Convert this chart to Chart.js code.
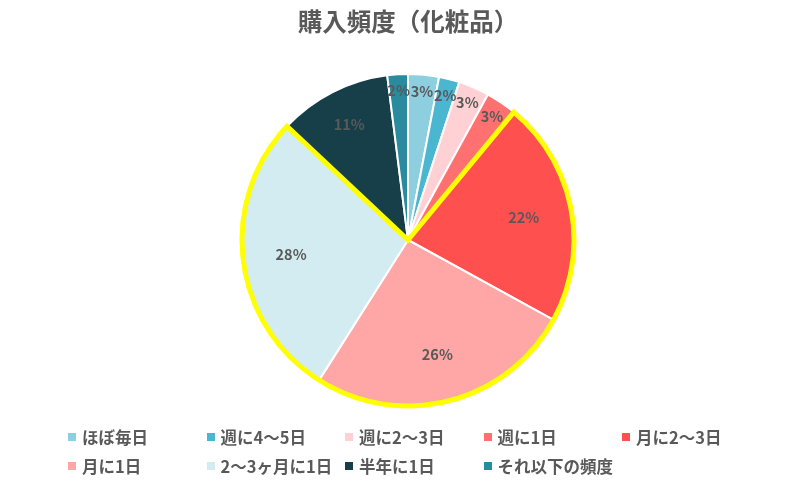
<!DOCTYPE html>
<html lang="ja">
<head>
<meta charset="utf-8">
<script src="https://cdn.jsdelivr.net/npm/chart.js@4/dist/chart.umd.min.js"></script>
<style>
    html, body { margin: 0; padding: 0; background: #fff; }
    #wrap { position: relative; width: 800px; height: 502px; }
    #legend {
        position: absolute; left: 68px; top: 427px; width: 720px;
        display: grid; grid-template-columns: repeat(5, 138.5px); row-gap: 9px;
        font-family: "Noto Sans CJK JP", sans-serif; font-size: 16.5px; font-weight: bold; color: #595959;
    }
    #legend div { display: flex; align-items: center; height: 20px; white-space: nowrap; }
    #legend span { display: inline-block; width: 8px; height: 8px; margin-right: 6px; }
</style>
</head>
<body>
<div id="wrap">
    <canvas id="chart" width="800" height="502"></canvas>
    <div id="legend"></div>
</div>
<script>
const categories = ['ほぼ毎日', '週に4〜5日', '週に2〜3日', '週に1日', '月に2〜3日', '月に1日', '2〜3ヶ月に1日', '半年に1日', 'それ以下の頻度'];
const shares = [3, 2, 3, 3, 22, 26, 28, 11, 2];
const colors = ['#8ecfdf', '#4bb6d0', '#ffd1d4', '#ff7171', '#ff5050', '#ffa6a6', '#d3ecf2', '#163f4a', '#2a8a9e'];
// slices wrapped together by the yellow outline
const highlighted = [4, 5, 6];

const fontFamily = '"Noto Sans CJK JP", sans-serif';

const sliceLabels = {
    id: 'sliceLabels',
    afterDatasetsDraw(chart) {
        const ctx = chart.ctx;
        const arcs = chart.getDatasetMeta(0).data;

        // yellow outline around the highlighted group
        const first = arcs[highlighted[0]];
        const last = arcs[highlighted[highlighted.length - 1]];
        ctx.save();
        ctx.beginPath();
        ctx.moveTo(first.x, first.y);
        ctx.arc(first.x, first.y, first.outerRadius, first.startAngle, last.endAngle);
        ctx.closePath();
        ctx.lineWidth = 5;
        ctx.lineJoin = 'miter';
        ctx.strokeStyle = '#ffff00';
        ctx.stroke();
        ctx.restore();

        ctx.save();
        ctx.fillStyle = '#595959';
        ctx.textAlign = 'center';
        ctx.textBaseline = 'middle';
        arcs.forEach((arc, i) => {
            const v = shares[i];
            const frac = v < 5 ? 0.9 : v < 15 ? 0.78 : 0.71;
            const mid = (arc.startAngle + arc.endAngle) / 2;
            const r = arc.outerRadius * frac;
            ctx.font = (v < 5 ? '600 ' : 'bold ') + '14.5px ' + fontFamily;
            ctx.fillText(v + '%', arc.x + Math.cos(mid) * r, arc.y + Math.sin(mid) * r);
        });
        ctx.restore();
    }
};

new Chart(document.getElementById('chart'), {
    type: 'pie',
    data: {
        labels: categories,
        datasets: [{
            data: shares,
            backgroundColor: colors,
            borderColor: '#ffffff',
            borderWidth: 2,
        }],
    },
    options: {
        responsive: false,
        animation: false,
        layout: { padding: { top: 0, bottom: 95, left: 16, right: 0 } },
        plugins: {
            title: {
                display: true,
                text: '購入頻度（化粧品）',
                color: '#595959',
                font: { family: fontFamily, size: 24.5, weight: 'bold', lineHeight: 1.2 },
                padding: { top: 7, bottom: 36.6 },
            },
            legend: { display: false },
            tooltip: { enabled: false },
        },
    },
    plugins: [sliceLabels],
});

const legendEl = document.getElementById('legend');
categories.forEach((name, i) => {
    const item = document.createElement('div');
    item.innerHTML = '<span style="background:' + colors[i] + '"></span>' + name;
    legendEl.appendChild(item);
});
</script>
</body>
</html>
